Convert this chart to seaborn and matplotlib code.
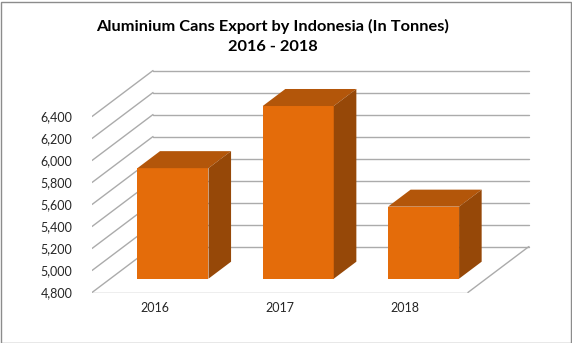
import numpy as np
import pandas as pd
import seaborn as sns
import matplotlib
matplotlib.use("Agg")
from matplotlib import pyplot as plt
from matplotlib.patches import Polygon, Rectangle

# data
years = ["2016", "2017", "2018"]
export_tonnes = [5805, 6370, 5455]
y_ticks = [4800, 5000, 5200, 5400, 5600, 5800, 6000, 6200, 6400]

df = pd.DataFrame({"year": years, "tonnes": export_tonnes})

# oblique "3d" look like the excel chart
DX = 0.487      # full floor depth, in category units
DY = 418        # full floor depth, in value units
Z_BAR = 0.30    # depth where bar front faces sit
W_BAR = 0.37    # bar depth
BAR_W = 0.567
BASE = y_ticks[0]

FRONT = "#E46C0A"
TOP = "#B3560A"
SIDE = "#964808"
GRID = "#ABABAB"

sns.set_theme(style="white")
plt.rcParams["font.family"] = ["Lato", "DejaVu Sans"]

fig = plt.figure(figsize=(5.72, 3.43), dpi=100)
W, H = 572, 343
# axes box in pixels (left, bottom-from-top, right, top-from-top)
L, B, R, T = 92, 292.5, 540, 55
ax = fig.add_axes([L / W, (H - B) / H, (R - L) / W, (B - T) / H])
px_per_cat = 125.3
px_per_val = 0.11

sns.barplot(data=df, x="year", y="tonnes", color=FRONT, saturation=1,
            width=BAR_W, ax=ax, zorder=3, linewidth=0)
ax.set_xlim(-0.5, -0.5 + (R - L) / px_per_cat)
ax.set_ylim(BASE, BASE + (B - T) / px_per_val)

# walls and floor
n = len(years)
x0, x1 = -0.5, n - 0.5
for v in y_ticks:
    ax.plot([x0, x0 + DX], [v, v + DY], color=GRID, lw=1, zorder=1)
    ax.plot([x0 + DX, x1 + DX], [v + DY, v + DY], color=GRID, lw=1, zorder=1)
ax.plot([x0, x1], [BASE, BASE], color=GRID, lw=1, zorder=1)
ax.plot([x1, x1 + DX], [BASE, BASE + DY], color=GRID, lw=1, zorder=1)

# push bars back into the floor and add top / side faces
for p, val in zip(ax.patches, export_tonnes):
    bx = p.get_x() + Z_BAR * DX
    by = BASE + Z_BAR * DY
    top = val + Z_BAR * DY
    w = p.get_width()
    p.set_x(bx)
    p.set_y(by)
    p.set_height(val - BASE)
    ddx, ddy = W_BAR * DX, W_BAR * DY
    ax.add_patch(Polygon([(bx, top), (bx + w, top), (bx + w + ddx, top + ddy),
                          (bx + ddx, top + ddy)], closed=True,
                         facecolor=TOP, edgecolor="none", zorder=3))
    ax.add_patch(Polygon([(bx + w, by), (bx + w, top), (bx + w + ddx, top + ddy),
                          (bx + w + ddx, by + ddy)], closed=True,
                         facecolor=SIDE, edgecolor="none", zorder=3))

ax.set_yticks(y_ticks)
ax.set_yticklabels([f"{v:,}" for v in y_ticks], fontsize=9, color="#262626")
ax.tick_params(axis="y", length=0, pad=14)
ax.tick_params(axis="x", length=0, pad=7, labelsize=9, labelcolor="#262626")
ax.set_xlabel("")
ax.set_ylabel("")
for s in ax.spines.values():
    s.set_visible(False)
ax.patch.set_alpha(0)

fig.suptitle("Aluminium Cans Export by Indonesia (In Tonnes)\n2016 - 2018",
             fontsize=11.8, fontweight="bold", x=273 / W, y=1 - 18.5 / H,
             va="top", linespacing=1.6, color="black")

fig.patches.append(Rectangle((0.5 / W, 0.5 / H), 1 - 2 / W, 1 - 2 / H,
                             transform=fig.transFigure, fill=False,
                             edgecolor="#8C8C8C", lw=1))

fig.savefig("out.png", dpi=100)
